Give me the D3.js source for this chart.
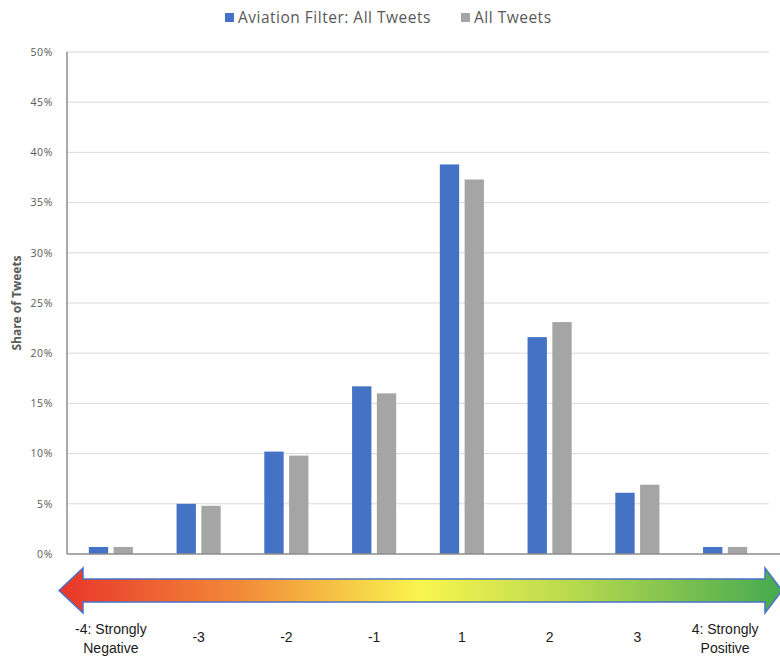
<!DOCTYPE html>
<html>
<head>
<meta charset="utf-8">
<script src="https://cdn.jsdelivr.net/npm/d3@7"></script>
<style>
  html, body { margin: 0; padding: 0; background: #fff; }
  svg { display: block; }
</style>
</head>
<body>
<svg id="chart" width="780" height="660"></svg>
<script>
// Sentiment score buckets (x axis) and the share of tweets in each
const categories = ["-4", "-3", "-2", "-1", "1", "2", "3", "4"];
const seriesNames = ["Aviation Filter: All Tweets", "All Tweets"];
const aviationShare = [0.7, 5.0, 10.2, 16.7, 38.8, 21.6, 6.1, 0.7];
const allTweetsShare = [0.7, 4.8, 9.8, 16.0, 37.3, 23.1, 6.9, 0.7];
const yTicks = [0, 5, 10, 15, 20, 25, 30, 35, 40, 45, 50];
const xLabels = [
  ["-4: Strongly", "Negative"], ["-3"], ["-2"], ["-1"],
  ["1"], ["2"], ["3"], ["4: Strongly", "Positive"]
];

const colors = ["#4472C4", "#A5A5A5"];
const svg = d3.select("#chart");

const plot = { left: 67, right: 769, top: 52, bottom: 554 };

const x = d3.scaleBand().domain(categories).range([plot.left, plot.right]).padding(0);
const x1 = d3.scaleBand().domain(seriesNames).range([0, x.bandwidth()])
  .paddingInner(0.22).paddingOuter(0.88);
const y = d3.scaleLinear().domain([0, 50]).range([plot.bottom, plot.top]);

// Gridlines
svg.append("g")
  .selectAll("line")
  .data(yTicks.filter(d => d > 0))
  .join("line")
  .attr("x1", plot.left).attr("x2", plot.right)
  .attr("y1", d => y(d)).attr("y2", d => y(d))
  .attr("stroke", "#d9d9d9").attr("stroke-width", 1);

// Y axis labels
const yAxis = d3.axisLeft(y).tickValues(yTicks).tickSize(0).tickPadding(14)
  .tickFormat(d => d + "%");
const yg = svg.append("g").attr("transform", `translate(${plot.left},0)`).call(yAxis);
yg.select(".domain").remove();
yg.selectAll("text")
  .attr("font-family", "'Open Sans', 'Liberation Sans', sans-serif")
  .attr("font-size", 10.5)
  .attr("letter-spacing", "0.6px")
  .attr("fill", "#595959");

// Axis title
svg.append("text")
  .attr("transform", `translate(21,${(plot.top + plot.bottom) / 2}) rotate(-90)`)
  .attr("text-anchor", "middle")
  .attr("font-family", "'Open Sans', 'Liberation Sans', sans-serif")
  .attr("font-weight", "bold")
  .attr("font-size", 12)
  .attr("fill", "#595959")
  .text("Share of Tweets");

// Bars
const rows = categories.map((c, i) => ({
  cat: c,
  values: [aviationShare[i], allTweetsShare[i]]
}));
svg.append("g")
  .selectAll("g")
  .data(rows)
  .join("g")
  .attr("transform", d => `translate(${x(d.cat)},0)`)
  .selectAll("rect")
  .data(d => d.values.map((v, j) => ({ name: seriesNames[j], v, j })))
  .join("rect")
  .attr("x", d => x1(d.name))
  .attr("width", x1.bandwidth())
  .attr("y", d => y(d.v))
  .attr("height", d => y(0) - y(d.v))
  .attr("fill", d => colors[d.j]);

// Axis lines
svg.append("line")
  .attr("x1", plot.left).attr("x2", plot.left)
  .attr("y1", plot.top).attr("y2", plot.bottom)
  .attr("stroke", "#8c8c8c").attr("stroke-width", 1.5);
svg.append("line")
  .attr("x1", plot.left).attr("x2", 780)
  .attr("y1", plot.bottom).attr("y2", plot.bottom)
  .attr("stroke", "#8c8c8c").attr("stroke-width", 1.5);

// Legend
const legend = svg.append("g")
  .attr("font-family", "'Open Sans', 'Liberation Sans', sans-serif")
  .attr("font-size", 15.5)
  .attr("letter-spacing", "0.5px")
  .attr("fill", "#595959");
const legendX = [225, 461];
seriesNames.forEach((name, i) => {
  legend.append("rect")
    .attr("x", legendX[i]).attr("y", 13)
    .attr("width", 9).attr("height", 9)
    .attr("fill", colors[i]);
  legend.append("text")
    .attr("x", legendX[i] + 13).attr("y", 23)
    .text(name);
});

// Gradient arrow running from negative (red) to positive (green)
const defs = svg.append("defs");
const grad = defs.append("linearGradient")
  .attr("id", "sentimentGrad")
  .attr("x1", "0%").attr("x2", "100%").attr("y1", "0%").attr("y2", "0%");
[
  [0, "#E8352A"], [0.25, "#F28A38"], [0.5, "#F9F54E"],
  [0.72, "#B4D84E"], [1, "#45AA50"]
].forEach(([o, c]) => grad.append("stop").attr("offset", o).attr("stop-color", c));

const ax = { l: 59, headL: 83, headR: 765, r: 782, top: 568, bottom: 613, sTop: 579, sBot: 602 };
const mid = (ax.top + ax.bottom) / 2;
const arrowPath = d3.path();
arrowPath.moveTo(ax.l, mid);
arrowPath.lineTo(ax.headL, ax.top);
arrowPath.lineTo(ax.headL, ax.sTop);
arrowPath.lineTo(ax.headR, ax.sTop);
arrowPath.lineTo(ax.headR, ax.top);
arrowPath.lineTo(ax.r, mid);
arrowPath.lineTo(ax.headR, ax.bottom);
arrowPath.lineTo(ax.headR, ax.sBot);
arrowPath.lineTo(ax.headL, ax.sBot);
arrowPath.lineTo(ax.headL, ax.bottom);
arrowPath.closePath();
svg.append("path")
  .attr("d", arrowPath.toString())
  .attr("fill", "url(#sentimentGrad)")
  .attr("stroke", "#4A72C8")
  .attr("stroke-width", 1.5)
  .attr("stroke-linejoin", "miter");

// Category labels beneath the arrow
const lab = svg.append("g")
  .attr("font-family", "'Liberation Sans', Arial, sans-serif")
  .attr("font-size", 14)
  .attr("fill", "#1a1a1a")
  .attr("text-anchor", "middle");
xLabels.forEach((lines, i) => {
  const cx = x(categories[i]) + x.bandwidth() / 2;
  const t = lab.append("text").attr("x", cx);
  if (lines.length === 1) {
    t.attr("y", 642).text(lines[0]);
  } else {
    lines.forEach((ln, k) => {
      t.append("tspan").attr("x", cx).attr("y", 634 + k * 19).text(ln);
    });
  }
});
</script>
</body>
</html>
